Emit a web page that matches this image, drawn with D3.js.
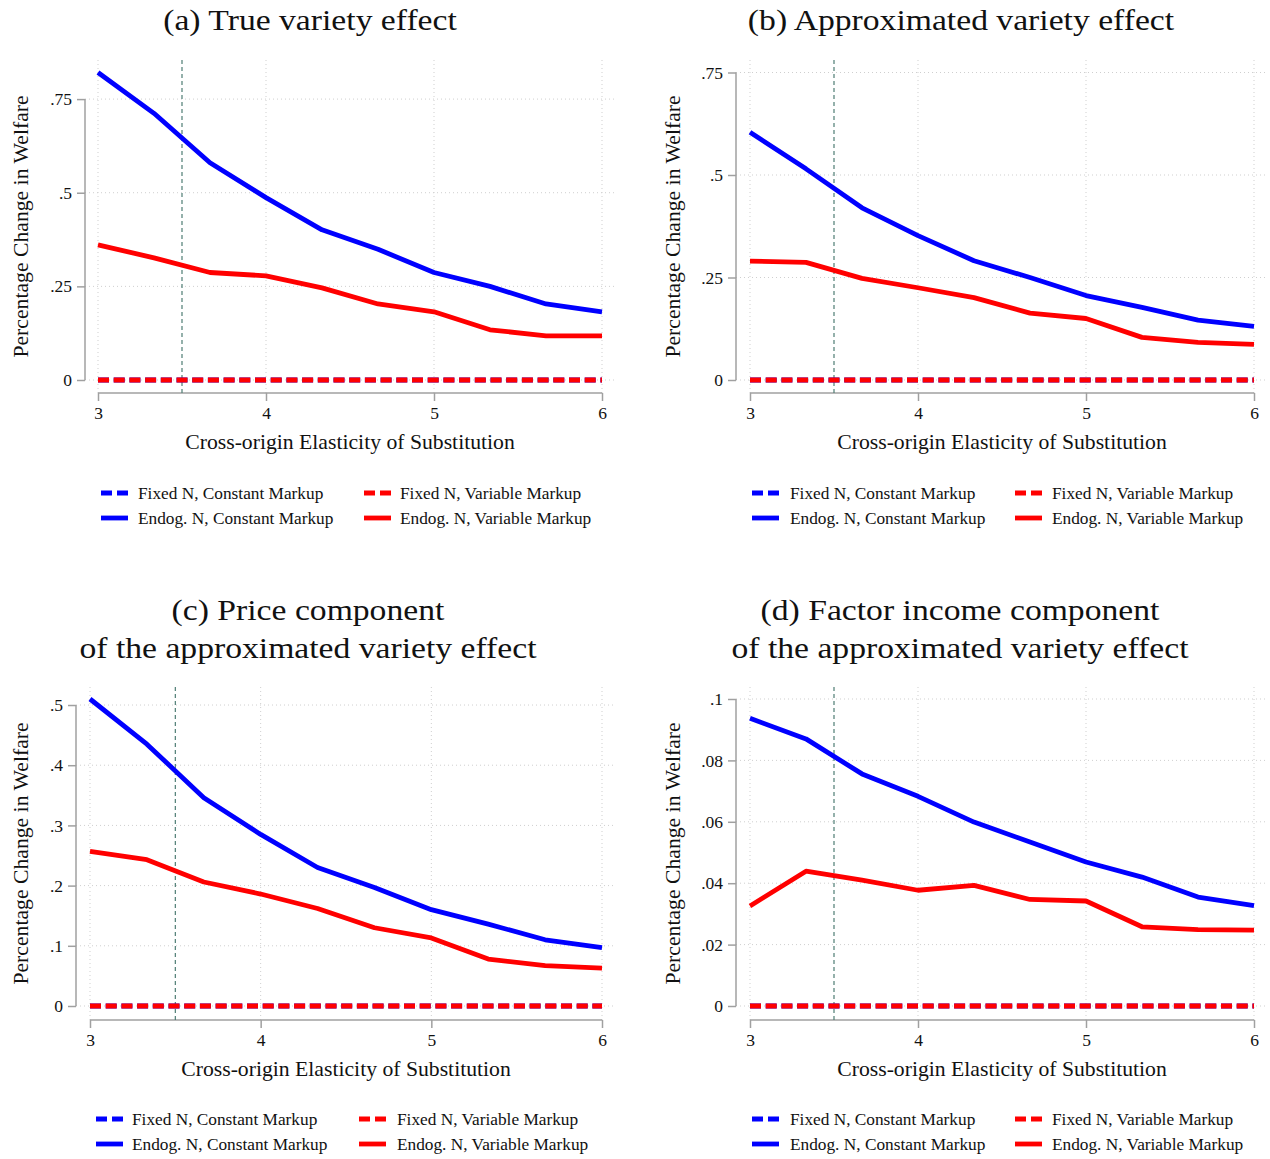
<!DOCTYPE html>
<html>
<head>
<meta charset="utf-8">
<script src="https://cdn.jsdelivr.net/npm/d3@7"></script>
<style>
  html, body { margin: 0; padding: 0; background: #fff; }
  svg text { font-family: "Liberation Serif", "Times New Roman", serif; fill: #111; }
</style>
</head>
<body>
<svg id="chart" width="1270" height="1159"></svg>
<script>
// ---- data ----
const sigma = [3, 3.3333, 3.6667, 4, 4.3333, 4.6667, 5, 5.3333, 5.6667, 6];
const xTicks = [3, 4, 5, 6];
const xLineAt = 3.5;
const seriesNames = ["Fixed N, Constant Markup", "Fixed N, Variable Markup",
                     "Endog. N, Constant Markup", "Endog. N, Variable Markup"];

const titleA = ["(a) True variety effect"];
const titleB = ["(b) Approximated variety effect"];
const titleC = ["(c) Price component", "of the approximated variety effect"];
const titleD = ["(d) Factor income component", "of the approximated variety effect"];

const yTicksA = [0, 0.25, 0.5, 0.75];
const yTicksB = [0, 0.25, 0.5, 0.75];
const yTicksC = [0, 0.1, 0.2, 0.3, 0.4, 0.5];
const yTicksD = [0, 0.02, 0.04, 0.06, 0.08, 0.1];

const fixedConstA = [0, 0, 0, 0, 0, 0, 0, 0, 0, 0];
const fixedVarA   = [0, 0, 0, 0, 0, 0, 0, 0, 0, 0];
const endogConstA = [0.821, 0.712, 0.580, 0.487, 0.401, 0.349, 0.287, 0.250, 0.203, 0.182];
const endogVarA   = [0.361, 0.326, 0.287, 0.278, 0.246, 0.203, 0.182, 0.134, 0.118, 0.118];

const fixedConstB = [0, 0, 0, 0, 0, 0, 0, 0, 0, 0];
const fixedVarB   = [0, 0, 0, 0, 0, 0, 0, 0, 0, 0];
const endogConstB = [0.604, 0.515, 0.420, 0.352, 0.291, 0.250, 0.206, 0.177, 0.146, 0.131];
const endogVarB   = [0.290, 0.287, 0.248, 0.225, 0.201, 0.163, 0.150, 0.104, 0.092, 0.087];

const fixedConstC = [0, 0, 0, 0, 0, 0, 0, 0, 0, 0];
const fixedVarC   = [0, 0, 0, 0, 0, 0, 0, 0, 0, 0];
const endogConstC = [0.510, 0.435, 0.346, 0.285, 0.230, 0.197, 0.160, 0.136, 0.110, 0.097];
const endogVarC   = [0.257, 0.243, 0.206, 0.186, 0.162, 0.130, 0.113, 0.078, 0.067, 0.063];

const fixedConstD = [0, 0, 0, 0, 0, 0, 0, 0, 0, 0];
const fixedVarD   = [0, 0, 0, 0, 0, 0, 0, 0, 0, 0];
const endogConstD = [0.0937, 0.0870, 0.0756, 0.0683, 0.0599, 0.0534, 0.0469, 0.0420, 0.0355, 0.0327];
const endogVarD   = [0.0326, 0.0439, 0.0410, 0.0377, 0.0393, 0.0347, 0.0342, 0.0258, 0.0249, 0.0247];

// ---- styles ----
const BLUE = "#0000ff", RED = "#ff0000";
const seriesStyle = [
  { color: BLUE, dash: "11 4.7" },
  { color: RED,  dash: "11 4.7" },
  { color: BLUE, dash: null },
  { color: RED,  dash: null }
];
const drawOrder = [0, 2, 1, 3];

// ---- layout ----
const panels = [
  { title: titleA, yTicks: yTicksA, series: [fixedConstA, fixedVarA, endogConstA, endogVarA],
    axisX: 85, xr: [98, 602], yr: [380, 72.5], top: 60, axisY: 393, right: 615,
    tcx: 310, tBase: [30], yTitleX: 28, leg: { c1: 101, t1: 138, c2: 364, t2: 400, r1: 493, r2: 518 } },
  { title: titleB, yTicks: yTicksB, series: [fixedConstB, fixedVarB, endogConstB, endogVarB],
    axisX: 736, xr: [750, 1254], yr: [380, 72.5], top: 60, axisY: 393, right: 1267,
    tcx: 961, tBase: [30], yTitleX: 680, leg: { c1: 752, t1: 790, c2: 1015, t2: 1052, r1: 493, r2: 518 } },
  { title: titleC, yTicks: yTicksC, series: [fixedConstC, fixedVarC, endogConstC, endogVarC],
    axisX: 76, xr: [90, 602], yr: [1006, 699], top: 687, axisY: 1020, right: 615,
    tcx: 308, tBase: [620, 658], yTitleX: 28, leg: { c1: 96, t1: 132, c2: 359, t2: 397, r1: 1119, r2: 1144 } },
  { title: titleD, yTicks: yTicksD, series: [fixedConstD, fixedVarD, endogConstD, endogVarD],
    axisX: 736, xr: [750, 1254], yr: [1006, 699], top: 687, axisY: 1020, right: 1267,
    tcx: 960, tBase: [620, 658], yTitleX: 680, leg: { c1: 752, t1: 790, c2: 1015, t2: 1052, r1: 1119, r2: 1144 } }
];

const svg = d3.select("#chart");
const fmt = d => d === 0 ? "0" : String(d).replace(/^0/, "");

panels.forEach(p => {
  const g = svg.append("g");
  const dataMax = d3.max([...p.series.flat(), ...p.yTicks]);
  const x = d3.scaleLinear().domain([3, 6]).range(p.xr);
  const y = d3.scaleLinear().domain([0, dataMax]).range(p.yr);

  // gridlines
  g.selectAll(".hg").data(p.yTicks).join("line")
    .attr("x1", p.axisX).attr("x2", p.right)
    .attr("y1", d => y(d)).attr("y2", d => y(d))
    .attr("stroke", "#cfcfcf").attr("stroke-width", 1).attr("stroke-dasharray", "1 3");
  g.selectAll(".vg").data(xTicks).join("line")
    .attr("x1", d => x(d)).attr("x2", d => x(d))
    .attr("y1", p.top).attr("y2", p.axisY)
    .attr("stroke", "#cfcfcf").attr("stroke-width", 1).attr("stroke-dasharray", "1 3");

  // y axis
  const yAxis = d3.axisLeft(y).tickValues(p.yTicks).tickFormat(fmt).tickSize(8).tickPadding(5);
  const ya = g.append("g").attr("transform", `translate(${p.axisX},0)`).call(yAxis);
  ya.select(".domain").attr("d", `M0,${y(p.yTicks[p.yTicks.length - 1])}V${y(0)}`);
  // x axis
  const xAxis = d3.axisBottom(x).tickValues(xTicks).tickFormat(d3.format("d")).tickSize(8).tickPadding(6);
  const xa = g.append("g").attr("transform", `translate(0,${p.axisY})`).call(xAxis);
  xa.select(".domain").attr("d", `M${x(3)},0H${x(6)}`);
  [ya, xa].forEach(a => {
    a.select(".domain").attr("stroke", "#a0a0a0").attr("stroke-width", 1.5).attr("fill", "none");
    a.selectAll(".tick line").attr("stroke", "#a0a0a0").attr("stroke-width", 1.5);
    a.selectAll(".tick text").style("font-family", '"Liberation Serif", "Times New Roman", serif')
      .style("font-size", "17.5px").attr("fill", "#111");
  });

  // vertical reference line
  g.append("line")
    .attr("x1", x(xLineAt)).attr("x2", x(xLineAt))
    .attr("y1", p.top).attr("y2", p.axisY)
    .attr("stroke", "#4f7d74").attr("stroke-width", 1.2).attr("stroke-dasharray", "4 3");

  // series lines
  const line = d3.line().x((d, i) => x(sigma[i])).y(d => y(d));
  drawOrder.forEach(si => {
    const st = seriesStyle[si];
    g.append("path").datum(p.series[si])
      .attr("d", line)
      .attr("fill", "none").attr("stroke", st.color).attr("stroke-width", 4.8)
      .attr("stroke-linejoin", "round")
      .attr("stroke-dasharray", st.dash);
  });

  // titles
  p.title.forEach((t, i) => {
    const tx = g.append("text").attr("x", p.tcx).attr("y", p.tBase[i])
      .attr("text-anchor", "middle").style("font-size", "29px").text(t);
    const L = tx.node().getComputedTextLength();
    tx.attr("textLength", L * 1.16).attr("lengthAdjust", "spacingAndGlyphs");
  });

  // axis titles
  g.append("text").attr("x", (p.xr[0] + p.xr[1]) / 2).attr("y", p.axisY + 56)
    .attr("text-anchor", "middle").style("font-size", "21.7px")
    .text("Cross-origin Elasticity of Substitution");
  g.append("text")
    .attr("transform", `translate(${p.yTitleX},${(p.top + p.axisY) / 2}) rotate(-90)`)
    .attr("text-anchor", "middle").style("font-size", "21.7px")
    .text("Percentage Change in Welfare");

  // legend
  const L = p.leg;
  const legItems = [
    { si: 0, sx: L.c1, tx: L.t1, ry: L.r1 },
    { si: 1, sx: L.c2, tx: L.t2, ry: L.r1 },
    { si: 2, sx: L.c1, tx: L.t1, ry: L.r2 },
    { si: 3, sx: L.c2, tx: L.t2, ry: L.r2 }
  ];
  legItems.forEach(it => {
    const st = seriesStyle[it.si];
    g.append("line").attr("x1", it.sx).attr("x2", it.sx + 27)
      .attr("y1", it.ry).attr("y2", it.ry)
      .attr("stroke", st.color).attr("stroke-width", 4.8)
      .attr("stroke-dasharray", st.dash ? "11 5" : null);
    g.append("text").attr("x", it.tx).attr("y", it.ry + 6)
      .style("font-size", "17.3px").text(seriesNames[it.si]);
  });
});
</script>
</body>
</html>
